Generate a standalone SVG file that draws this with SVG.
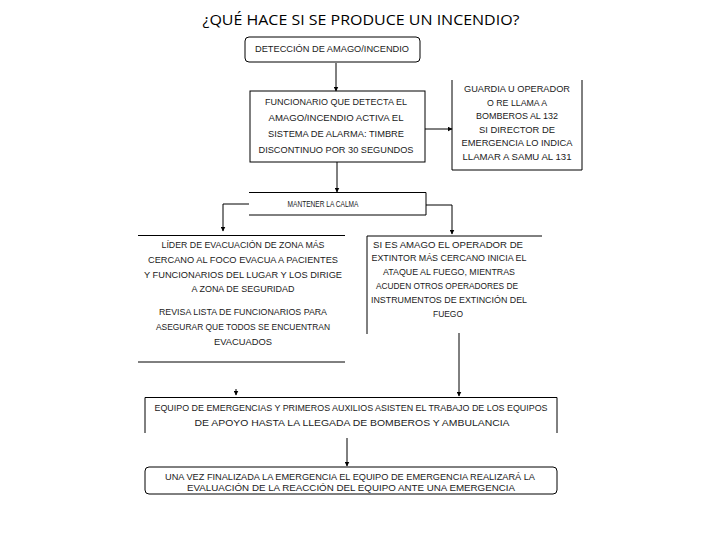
<svg xmlns="http://www.w3.org/2000/svg" width="720" height="540" viewBox="0 0 720 540">
<style>
.t{font-family:"Liberation Sans",Arial,sans-serif;font-size:8.5px;fill:#1a1a1a;text-anchor:middle}
.title{font-family:"Open Sans","Liberation Sans",sans-serif;font-size:15px;fill:#000;text-anchor:middle}
.b{fill:none;stroke:#000;stroke-width:1}
.c{fill:none;stroke:#000;stroke-width:1}
</style>
<defs>
<marker id="ah" viewBox="0 0 10 10" refX="9" refY="5" markerWidth="5" markerHeight="5" markerUnits="userSpaceOnUse" orient="auto">
<path d="M0,0 L10,5 L0,10 z" fill="#000"/>
</marker>
</defs>
<rect width="720" height="540" fill="#fff"/>
<text class="title" x="361" y="25" textLength="317" lengthAdjust="spacingAndGlyphs">¿QUÉ HACE SI SE PRODUCE UN INCENDIO?</text>

<g id="connectors">
<line class="c" x1="336" y1="63" x2="336" y2="91" marker-end="url(#ah)"/>
<line class="c" x1="337" y1="162" x2="337" y2="192" marker-end="url(#ah)"/>
<line class="c" x1="425" y1="129" x2="452" y2="129" marker-end="url(#ah)"/>
<polyline class="c" points="249,204 223,204 223,231" marker-end="url(#ah)"/>
<polyline class="c" points="426,205 452,205 452,234" marker-end="url(#ah)"/>
<line class="c" x1="236" y1="389" x2="236" y2="395" marker-end="url(#ah)"/>
<line class="c" x1="459" y1="333" x2="459" y2="396" marker-end="url(#ah)"/>
<line class="c" x1="347" y1="438" x2="347" y2="466" marker-end="url(#ah)"/>
</g>

<g id="n1">
<rect class="b" x="245" y="37" width="175" height="25" rx="4"/>
<text class="t" x="332" y="52" textLength="154" lengthAdjust="spacingAndGlyphs">DETECCIÓN DE AMAGO/INCENDIO</text>
</g>

<g id="n2">
<rect class="b" x="250" y="91" width="175" height="71"/>
<text class="t" x="336" y="105" textLength="142" lengthAdjust="spacingAndGlyphs">FUNCIONARIO QUE DETECTA EL</text>
<text class="t" x="336" y="121" textLength="135" lengthAdjust="spacingAndGlyphs">AMAGO/INCENDIO ACTIVA EL</text>
<text class="t" x="336" y="137" textLength="136" lengthAdjust="spacingAndGlyphs">SISTEMA DE ALARMA: TIMBRE</text>
<text class="t" x="336" y="153" textLength="155" lengthAdjust="spacingAndGlyphs">DISCONTINUO POR 30 SEGUNDOS</text>
</g>

<g id="n3">
<path class="b" d="M452,80 V170 H582 V80"/>
<text class="t" x="517" y="92" textLength="106" lengthAdjust="spacingAndGlyphs">GUARDIA U OPERADOR</text>
<text class="t" x="517" y="106" textLength="60" lengthAdjust="spacingAndGlyphs">O RE LLAMA A</text>
<text class="t" x="517" y="119" textLength="82" lengthAdjust="spacingAndGlyphs">BOMBEROS AL 132</text>
<text class="t" x="517" y="133" textLength="76" lengthAdjust="spacingAndGlyphs">SI DIRECTOR DE</text>
<text class="t" x="517" y="146" textLength="111" lengthAdjust="spacingAndGlyphs">EMERGENCIA LO INDICA</text>
<text class="t" x="517" y="160" textLength="109" lengthAdjust="spacingAndGlyphs">LLAMAR A SAMU AL 131</text>
</g>

<g id="n4">
<path class="b" d="M249,192.5 H426 V215 H249"/>
<text class="t" x="323" y="207" textLength="71" lengthAdjust="spacingAndGlyphs">MANTENER LA CALMA</text>
</g>

<g id="n5">
<line class="b" x1="138" y1="235.5" x2="345" y2="235.5"/>
<line class="b" x1="138" y1="362" x2="345" y2="362"/>
<text class="t" x="243" y="248" textLength="163" lengthAdjust="spacingAndGlyphs">LÍDER DE EVACUACIÓN DE ZONA MÁS</text>
<text class="t" x="243" y="263" textLength="190" lengthAdjust="spacingAndGlyphs">CERCANO AL FOCO EVACUA A PACIENTES</text>
<text class="t" x="243" y="278" textLength="198" lengthAdjust="spacingAndGlyphs">Y FUNCIONARIOS DEL LUGAR Y LOS DIRIGE</text>
<text class="t" x="243" y="292" textLength="103" lengthAdjust="spacingAndGlyphs">A ZONA DE SEGURIDAD</text>
<text class="t" x="243" y="315" textLength="168" lengthAdjust="spacingAndGlyphs">REVISA LISTA DE FUNCIONARIOS PARA</text>
<text class="t" x="243" y="330" textLength="174" lengthAdjust="spacingAndGlyphs">ASEGURAR QUE TODOS SE ENCUENTRAN</text>
<text class="t" x="243" y="345" textLength="58" lengthAdjust="spacingAndGlyphs">EVACUADOS</text>
</g>

<g id="n6">
<path class="b" d="M367,334 V236 H542"/>
<text class="t" x="448" y="248" textLength="150" lengthAdjust="spacingAndGlyphs">SI ES AMAGO EL OPERADOR DE</text>
<text class="t" x="449" y="261" textLength="155" lengthAdjust="spacingAndGlyphs">EXTINTOR MÁS CERCANO INICIA EL</text>
<text class="t" x="449" y="275" textLength="132" lengthAdjust="spacingAndGlyphs">ATAQUE AL FUEGO, MIENTRAS</text>
<text class="t" x="447" y="289" textLength="142" lengthAdjust="spacingAndGlyphs">ACUDEN OTROS OPERADORES DE</text>
<text class="t" x="449" y="303" textLength="156" lengthAdjust="spacingAndGlyphs">INSTRUMENTOS DE EXTINCIÓN DEL</text>
<text class="t" x="448" y="317" textLength="30" lengthAdjust="spacingAndGlyphs">FUEGO</text>
</g>

<g id="n7">
<path class="b" d="M145,433 V397.5 H557 V433"/>
<text class="t" x="351" y="411" textLength="393" lengthAdjust="spacingAndGlyphs">EQUIPO DE EMERGENCIAS Y PRIMEROS AUXILIOS ASISTEN EL TRABAJO DE LOS EQUIPOS</text>
<text class="t" x="352" y="426" textLength="315" lengthAdjust="spacingAndGlyphs">DE APOYO HASTA LA LLEGADA DE BOMBEROS Y AMBULANCIA</text>
</g>

<g id="n8">
<rect class="b" x="145" y="467" width="412" height="27" rx="4"/>
<text class="t" x="350" y="480" textLength="370" lengthAdjust="spacingAndGlyphs">UNA VEZ FINALIZADA LA EMERGENCIA EL EQUIPO DE EMERGENCIA REALIZARÁ LA</text>
<text class="t" x="351" y="491" textLength="328" lengthAdjust="spacingAndGlyphs">EVALUACIÓN DE LA REACCIÓN DEL EQUIPO ANTE UNA EMERGENCIA</text>
</g>
</svg>
